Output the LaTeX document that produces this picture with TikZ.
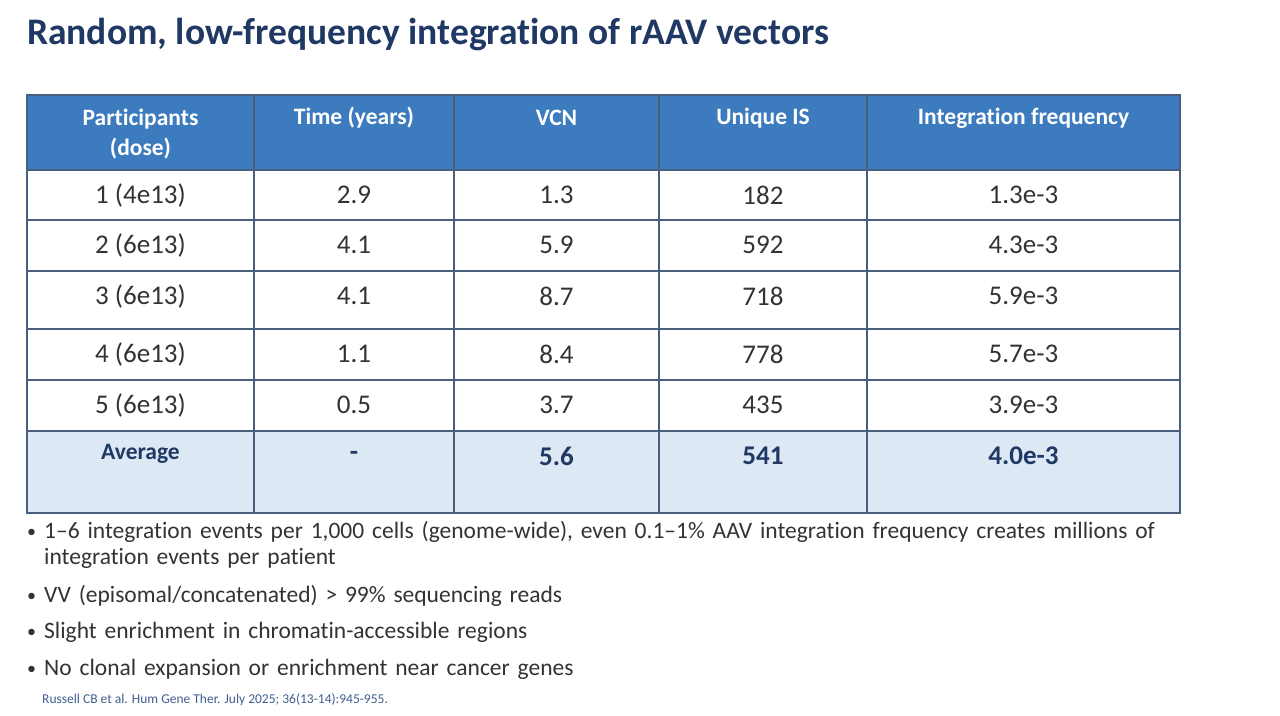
\documentclass[tikz,border=0pt]{standalone}
\usepackage{fontspec}
\setmainfont{Carlito}[Ligatures=NoCommon]
\definecolor{navy}{HTML}{1F3864}
\definecolor{hdr}{HTML}{3D7BBF}
\definecolor{avg}{HTML}{DDE8F5}
\definecolor{grid}{HTML}{4A5F7E}
\definecolor{txt}{HTML}{333333}
\definecolor{cite}{HTML}{3F5F8F}
\begin{document}
\begin{tikzpicture}[x=1pt,y=-1pt,
  hd/.style={text=white,font=\fontsize{23.5}{30}\selectfont\bfseries,align=center},
  cell/.style={text=txt,font=\fontsize{27}{30}\selectfont},
  av/.style={text=navy,font=\fontsize{27}{30}\selectfont\bfseries},
  bul/.style={anchor=north west,text=txt,font=\fontsize{23.5}{26}\selectfont,text width=1200pt,align=left,inner sep=0pt}]
\useasboundingbox (0,0) rectangle (1280,715);
\fill[white] (0,0) rectangle (1280,715);
\node[anchor=west,text=navy,font=\fontsize{37.5}{42}\selectfont\bfseries,inner sep=0] (title) at (27,35) {Random, low-frequency integration of rAAV vectors};
\fill[hdr] (27,95) rectangle (1180,170);
\fill[avg] (27,431) rectangle (1180,513);
\foreach \y in {170,220,271,329,380,431} \draw[grid,line width=1.2pt] (27,\y) -- (1180,\y);
\foreach \x in {254,454,659,867} \draw[grid,line width=1.2pt] (\x,95) -- (\x,513);
\draw[grid,line width=1.5pt] (27,95) rectangle (1180,513);
% header
\node[hd] (h1) at (140.5,134) {Participants\\(dose)};
\node[hd] (h2) at (354,118) {Time (years)};
\node[hd] (h3) at (556.5,118) {VCN};
\node[hd] (h4) at (763,118) {Unique IS};
\node[hd] (h5) at (1023.5,118) {Integration frequency};
\foreach \y/\a/\b/\c/\d/\e [count=\i] in {195/1 (4e13)/2.9/1.3/182/1.3e-3, 245/2 (6e13)/4.1/5.9/592/4.3e-3, 296/3 (6e13)/4.1/8.7/718/5.9e-3, 354/4 (6e13)/1.1/8.4/778/5.7e-3, 405/5 (6e13)/0.5/3.7/435/3.9e-3}{
  \node[cell] (r\i a) at (140.5,\y) {\a};
  \node[cell] (r\i b) at (354,\y) {\b};
  \node[cell] (r\i c) at (556.5,\y) {\c};
  \node[cell] (r\i d) at (763,\y) {\d};
  \node[cell] (r\i e) at (1023.5,\y) {\e};
}
\node[text=navy,font=\fontsize{23.5}{26}\selectfont\bfseries] (ava) at (140.5,454) {Average};
\node[av] (avb) at (354,456) {-};
\node[av] (avc) at (556.5,456) {5.6};
\node[av] (avd) at (763,456) {541};
\node[av] (ave) at (1023.5,456) {4.0e-3};
% bullets
\node[bul] (b1) at (27,521) {\makebox[17pt][l]{\raisebox{1pt}{\fontsize{18}{18}\selectfont•}}1–6 integration events per 1,000 cells (genome-wide), even 0.1–1\% AAV integration frequency creates millions of\\\hspace*{17pt}integration events per patient};
\node[bul] (b2) at (27,585) {\makebox[17pt][l]{\raisebox{1pt}{\fontsize{18}{18}\selectfont•}}VV (episomal/concatenated) > 99\% sequencing reads};
\node[bul] (b3) at (27,622) {\makebox[17pt][l]{\raisebox{1pt}{\fontsize{18}{18}\selectfont•}}Slight enrichment in chromatin-accessible regions};
\node[bul] (b4) at (27,659) {\makebox[17pt][l]{\raisebox{1pt}{\fontsize{18}{18}\selectfont•}}No clonal expansion or enrichment near cancer genes};
\node[anchor=west,text=cite,font=\fontsize{13.5}{15}\selectfont,inner sep=0] (cit) at (42,700) {Russell CB et al. Hum Gene Ther. July 2025; 36(13-14):945-955.};
\end{tikzpicture}
\end{document}
